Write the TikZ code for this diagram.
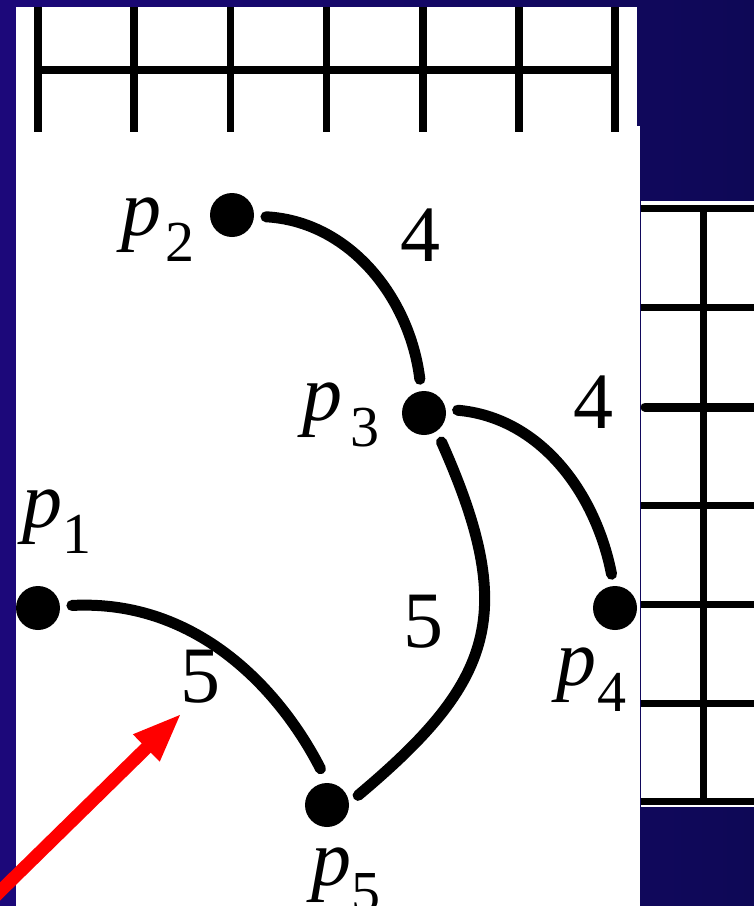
\documentclass[tikz,border=0pt]{standalone}
\usepackage{fontspec}
\setmainfont{LiberationSerif}[Extension=.ttf, UprightFont=*-Regular, ItalicFont=*-Italic, BoldFont=*-Bold]
\usetikzlibrary{arrows.meta}
\definecolor{navyL}{RGB}{28,8,122}
\definecolor{navyR}{RGB}{14,8,86}
\newcommand{\bigfnt}{\fontsize{80}{90}\selectfont}
\newcommand{\subfnt}{\fontsize{58}{64}\selectfont}
\newcommand{\plbl}[2]{\bigfnt\textit{p}\kern#2\raisebox{-26pt}{\subfnt #1}}
\begin{document}
\begin{tikzpicture}[x=1pt,y=-1pt,
  vdot/.style={circle, fill=black, minimum size=44pt, inner sep=0pt, outer sep=0pt},
  conn/.style={line width=11pt, line cap=round, shorten <=12pt, shorten >=12pt},
  gridln/.style={line width=7.5pt, black},
  lbl/.style={inner sep=0pt, anchor=base west},
  wlbl/.style={inner sep=0pt, font=\bigfnt},
  panel/.style={fill=white, draw=none}]
\useasboundingbox (0,0) rectangle (754,906);
\shade[left color=navyL, right color=navyR] (0,0) rectangle (754,906);
% main panel
\fill[white] (16,126) rectangle (640,906);
% top panel
\fill[white] (16,7) rectangle (637,132);
\foreach \i in {0,...,6} {
  \draw[gridln] (38+96.2*\i,7) -- (38+96.2*\i,132);
}
\draw[gridln] (38,70) -- (615.2,70);
% right panel
\fill[white] (641,201) rectangle (754,807);
\draw[gridln, line width=7pt] (703.5,205) -- (703.5,805);
\foreach \yy in {208,307.5,505,604,703,801} {
  \draw[gridln, line width=7pt] (641,\yy) -- (754,\yy);
}
\draw[gridln, line width=9pt, line cap=round] (645,407) -- (754,407);
% graph
\begin{scope}
\clip (16,126) rectangle (640,906);
\node[vdot] (p1) at (38,608) {};
\node[vdot] (p2) at (232,215) {};
\node[vdot] (p3) at (424,413) {};
\node[vdot] (p4) at (615,608) {};
\node[vdot] (p5) at (327,805) {};
\draw[conn] (p2.-3) .. controls +(3:95) and +(-97:95) .. (p3.97);
\draw[conn] (p3.10) .. controls +(5:95) and +(-101:95) .. (p4.93);
\draw[conn] (p3.-55) .. controls +(66:200) and +(-40:190) .. (p5.5);
\draw[conn, shorten >=16pt] (p1.5) .. controls +(-3:140) and +(-117:100) .. (p5.88);
\node[lbl] (l1) at (22,527) {\plbl{1}{0pt}};
\node[lbl] (l2) at (121,235) {\plbl{2}{4pt}};
\node[lbl] (l3) at (302,420) {\plbl{3}{8pt}};
\node[lbl] (l4) at (556,685) {\plbl{4}{1pt}};
\node[lbl] (l5) at (311,885) {\plbl{5}{0pt}};
\node[wlbl] (w23) at (420,235.5) {4};
\node[wlbl] (w34) at (593.5,402.5) {4};
\node[wlbl] (w35) at (423,622) {5};
\node[wlbl] (w15) at (200,676.5) {5};
\end{scope}
% red arrow
\coordinate (arrS) at (-20,911);
\coordinate (arrT) at (182,713);
\draw[red, line width=13pt, -{Triangle[length=50pt,width=34pt]}] (arrS) -- (arrT);
\end{tikzpicture}
\end{document}
